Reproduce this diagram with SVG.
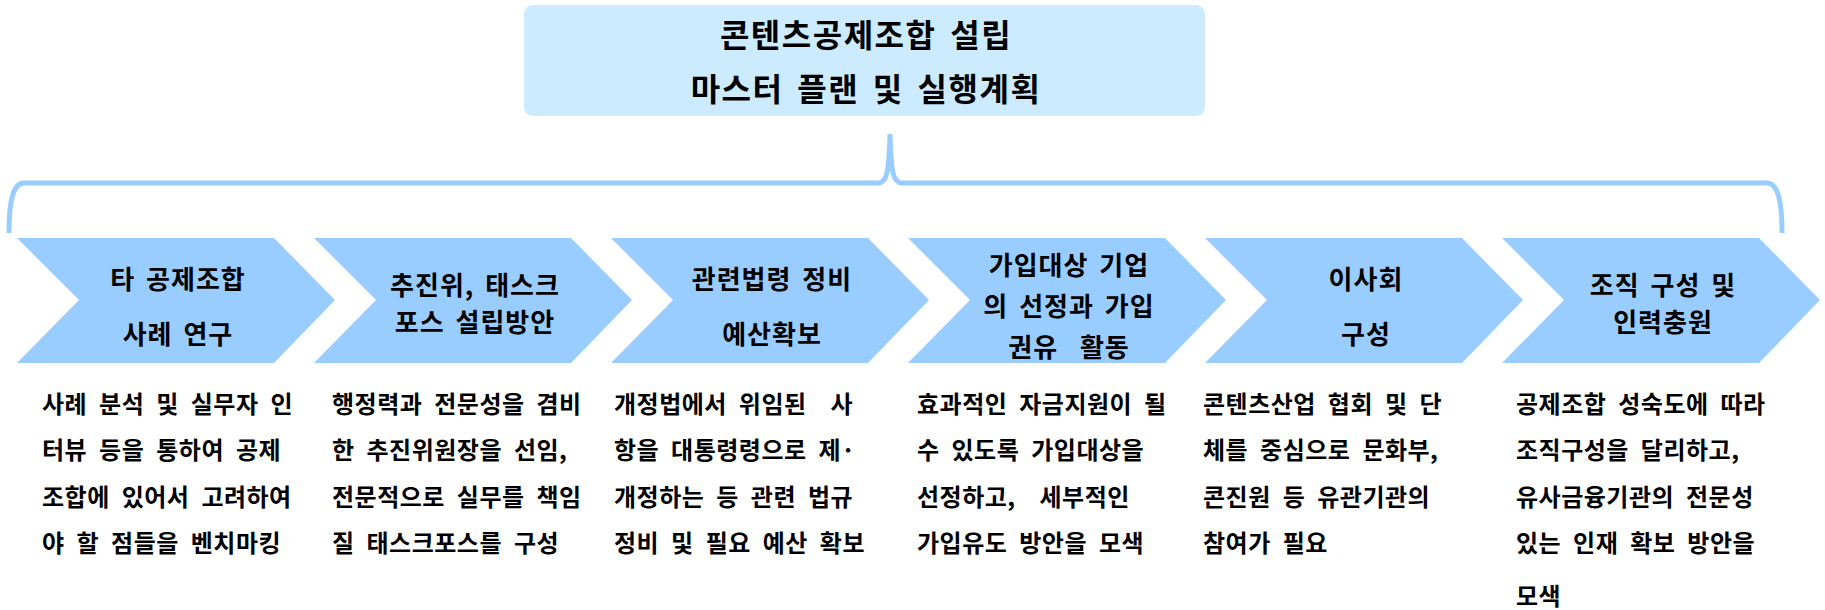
<svg xmlns="http://www.w3.org/2000/svg" width="1825" height="610" viewBox="0 0 1825 610">
<style>
.t{font-family:"Noto Sans CJK KR","Noto Sans",sans-serif;font-weight:bold;fill:#000}
.title{font-size:32px;letter-spacing:1.5px;word-spacing:5px;text-anchor:middle;dominant-baseline:central}
.lab{font-size:26px;letter-spacing:1px;word-spacing:4px;text-anchor:middle;dominant-baseline:central}
.desc{font-size:24px;letter-spacing:0.5px;word-spacing:6px;dominant-baseline:central}
.chev{fill:#99CCFF}
</style>
<rect width="1825" height="610" fill="#FFFFFF"/>
<g id="top">
<rect x="524" y="5" width="681" height="111" rx="9" fill="#CCEBFF"/>
<text class="t title" x="866" y="33">콘텐츠공제조합 설립</text>
<text class="t title" x="866" y="87">마스터 플랜 및 실행계획</text>
</g>
<g id="connectors">
<path d="M9,233 C9,205 12,183 24,183 L878,183 C887,183 889,172 890,134 C891,172 893,183 902,183 L1767,183 C1779,183 1782,205 1782,233" fill="none" stroke="#99CCFF" stroke-width="5"/>
</g>
<g id="step1">
<polygon class="chev" points="17,238 274,238 335,300 274,363 17,363 79,300"/>
<text class="t lab" x="178" y="277">타 공제조합</text>
<text class="t lab" x="178" y="332">사례 연구</text>
</g>
<g id="step2">
<polygon class="chev" points="314,238 571,238 632,300 571,363 314,363 376,300"/>
<text class="t lab" x="475" y="283">추진위, 태스크</text>
<text class="t lab" x="475" y="320">포스 설립방안</text>
</g>
<g id="step3">
<polygon class="chev" points="611,238 868,238 929,300 868,363 611,363 673,300"/>
<text class="t lab" x="772" y="277">관련법령 정비</text>
<text class="t lab" x="772" y="332">예산확보</text>
</g>
<g id="step4">
<polygon class="chev" points="908,238 1165,238 1226,300 1165,363 908,363 970,300"/>
<text class="t lab" x="1069" y="263">가입대상 기업</text>
<text class="t lab" x="1069" y="304">의 선정과 가입</text>
<text class="t lab" x="1069" y="345" xml:space="preserve">권유  활동</text>
</g>
<g id="step5">
<polygon class="chev" points="1205,238 1462,238 1523,300 1462,363 1205,363 1267,300"/>
<text class="t lab" x="1366" y="277">이사회</text>
<text class="t lab" x="1366" y="332">구성</text>
</g>
<g id="step6">
<polygon class="chev" points="1502,238 1759,238 1820,300 1759,363 1502,363 1564,300"/>
<text class="t lab" x="1663" y="283">조직 구성 및</text>
<text class="t lab" x="1663" y="320">인력충원</text>
</g>
<g id="desc1">
<text class="t desc" x="42" y="402">사례 분석 및 실무자 인</text>
<text class="t desc" x="42" y="448">터뷰 등을 통하여 공제</text>
<text class="t desc" x="42" y="495">조합에 있어서 고려하여</text>
<text class="t desc" x="42" y="541">야 할 점들을 벤치마킹</text>
</g>
<g id="desc2">
<text class="t desc" x="332" y="402">행정력과 전문성을 겸비</text>
<text class="t desc" x="332" y="448">한 추진위원장을 선임,</text>
<text class="t desc" x="332" y="495">전문적으로 실무를 책임</text>
<text class="t desc" x="332" y="541">질 태스크포스를 구성</text>
</g>
<g id="desc3">
<text class="t desc" x="614" y="402" xml:space="preserve">개정법에서 위임된  사</text>
<text class="t desc" x="614" y="448">항을 대통령령으로 제·</text>
<text class="t desc" x="614" y="495">개정하는 등 관련 법규</text>
<text class="t desc" x="614" y="541">정비 및 필요 예산 확보</text>
</g>
<g id="desc4">
<text class="t desc" x="917" y="402">효과적인 자금지원이 될</text>
<text class="t desc" x="917" y="448">수 있도록 가입대상을</text>
<text class="t desc" x="917" y="495" xml:space="preserve">선정하고,  세부적인</text>
<text class="t desc" x="917" y="541">가입유도 방안을 모색</text>
</g>
<g id="desc5">
<text class="t desc" x="1203" y="402">콘텐츠산업 협회 및 단</text>
<text class="t desc" x="1203" y="448">체를 중심으로 문화부,</text>
<text class="t desc" x="1203" y="495">콘진원 등 유관기관의</text>
<text class="t desc" x="1203" y="541">참여가 필요</text>
</g>
<g id="desc6">
<text class="t desc" x="1516" y="402">공제조합 성숙도에 따라</text>
<text class="t desc" x="1516" y="448">조직구성을 달리하고,</text>
<text class="t desc" x="1516" y="495">유사금융기관의 전문성</text>
<text class="t desc" x="1516" y="541">있는 인재 확보 방안을</text>
<text class="t desc" x="1516" y="594">모색</text>
</g>
</svg>
